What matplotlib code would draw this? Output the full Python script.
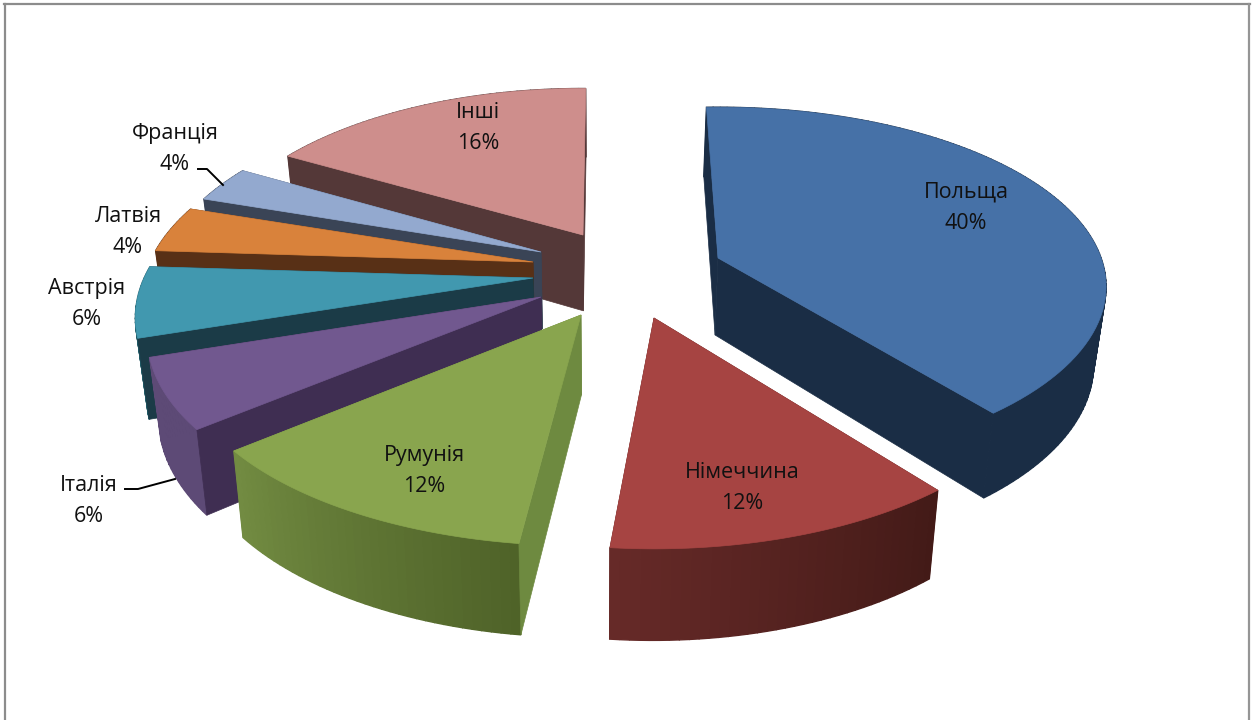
import numpy as np
import matplotlib
matplotlib.use("Agg")
import matplotlib.pyplot as plt
from matplotlib.patches import Polygon
from matplotlib.colors import to_rgb

names = ["Польща", "Німеччина", "Румунія", "Італія", "Австрія", "Латвія", "Франція", "Інші"]
values = [40, 12, 12, 6, 6, 4, 4, 16]

# look of the slices
top_col = ["#4671a7", "#a64442", "#89a54e", "#71588f", "#4198af", "#d9823b", "#93a9cf", "#ce8e8c"]
side_col = ["#1a2d45", "#5a2422", "#6e8a40", "#3f2e52", "#1b3b47", "#583016", "#3a4456", "#543838"]
rim_a = ["#1a2d45", "#421a17", "#4e6228", "#5d4a76", "#1f5a66", "#583016", "#3a4456", "#543838"]
rim_b = ["#1a2d45", "#672a28", "#728c42", "#5d4a76", "#1f5a66", "#583016", "#3a4456", "#543838"]
# where each exploded slice has its tip, in pixels
tip_x = [718, 654, 581, 541, 533, 533, 541, 583]
tip_y = [258, 318, 315, 297, 278, 262, 252, 235]
# the perspective of the original bends the slices a little
fix_a = [-2, -2, 0, 0.5, 0, 0, 0, -3]
fix_b = [-3, -2, -0.5, 0, 0, 0, -3, 0.5]
scale_x = [0.995, 1, 1.02, 1.0, 1.01, 0.995, 0.98, 0.97]
scale_y = [0.958, 1, 1, 1, 1, 1, 1, 0.97]
persp = [0.16, 0.209, 0.209, 0.209, 0.209, 0.209, 0.209, 0.209]
# which cut face is in front of the rim: 0 start, 1 end, None neither
front_face = [1, None, 0, 0, 0, 0, 0, 0]
label_x = [966, 742, 424, 89, 87, 128, 175, 478]
label_y = [208, 488, 471, 501, 304, 232, 149, 128]

RX, RY = 385, 182.6
VX = 600


def top_point(i, ang):
    u = np.sin(ang)
    v = -np.cos(ang)
    s = 1 / (1 - persp[i] * v)
    return tip_x[i] + RX * scale_x[i] * u * s, tip_y[i] + RY * scale_y[i] * v * s


def bottom_point(x, y):
    return VX + (x - VX) * 0.975, y + 77 + 0.05 * (y - 258)


def cut_face(i, a, col):
    p = top_point(i, a)
    q = bottom_point(*p)
    tb = bottom_point(tip_x[i], tip_y[i])
    ax.add_patch(Polygon([(tip_x[i], tip_y[i]), p, q, tb], fc=col, ec=col, lw=0.5))


fig = plt.figure(figsize=(12.55, 7.2), dpi=100)
ax = fig.add_axes([0, 0, 1, 1])
ax.set_xlim(0, 1255)
ax.set_ylim(720, 0)
ax.axis("off")

# frame, open at the bottom
ax.plot([5, 5], [720, 4], color="#8c8c8c", lw=1.6)
ax.plot([4, 1250], [4, 4], color="#8c8c8c", lw=1.6)
ax.plot([1249, 1249], [4, 720], color="#959595", lw=1.6)

edges = np.cumsum([0] + values) * 3.6

# back slices first so the front ones cover them
for i in range(len(values) - 1, -1, -1):
    a0 = np.radians(edges[i] + fix_a[i])
    a1 = np.radians(edges[i + 1] + fix_b[i])

    if front_face[i] != 0:
        cut_face(i, a0, side_col[i])
    if front_face[i] != 1:
        cut_face(i, a1, side_col[i])

    n = max(int(values[i] * 3), 12)
    angs = np.linspace(a0, a1, n + 1)
    c0 = np.array(to_rgb(rim_a[i]))
    c1 = np.array(to_rgb(rim_b[i]))
    for k in range(n):
        p0 = top_point(i, angs[k])
        p1 = top_point(i, angs[k + 1])
        col = c0 + (c1 - c0) * (k + 0.5) / n
        ax.add_patch(Polygon([p0, p1, bottom_point(*p1), bottom_point(*p0)], fc=col, ec=col, lw=1.0))

    if front_face[i] == 0:
        cut_face(i, a0, side_col[i])
    if front_face[i] == 1:
        cut_face(i, a1, side_col[i])

    rim = [top_point(i, a) for a in np.linspace(a0, a1, 80)]
    ax.add_patch(Polygon([(tip_x[i], tip_y[i])] + rim, fc=top_col[i], ec=top_col[i], lw=0.5))

# leader lines for two outside labels
ax.plot([198, 207, 223], [169, 169, 185], color="black", lw=1.4)
ax.plot([125, 138, 175], [489, 489, 479], color="black", lw=1.4)

for i in range(len(values)):
    ax.text(label_x[i], label_y[i], f"{names[i]}\n{values[i]}%", ha="center", va="center",
            fontsize=15.5, family="Open Sans", color="#111111", linespacing=1.65)

fig.savefig("out.png", dpi=100)
